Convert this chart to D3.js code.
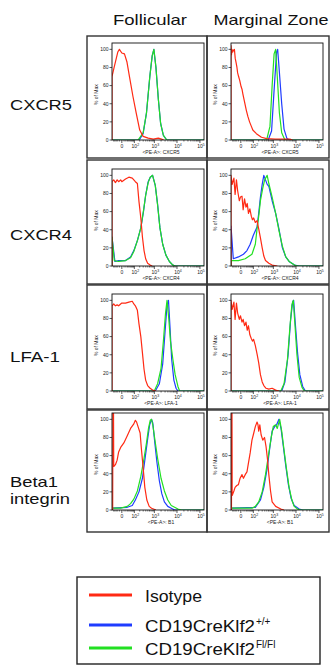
<!DOCTYPE html>
<html>
<head>
<meta charset="utf-8">
<script src="https://cdn.jsdelivr.net/npm/d3@7/dist/d3.min.js"></script>
<style>
  body { margin: 0; background: #fff; }
  svg { display: block; }
</style>
</head>
<body>
<div id="chart"></div>
<script>
// column / row categories
const cellTypes = ['Follicular', 'Marginal Zone']
const markers = [['CXCR5'], ['CXCR4'], ['LFA-1'], ['Beta1', 'integrin']]
const axisNames = ['CXCR5', 'CXCR4', 'LFA-1', 'B1']
const seriesNames = ['Isotype', 'CD19CreKlf2', 'CD19CreKlf2']
const seriesSup = ['', '+/+', 'Fl/Fl']

// ticks
const xMajor = [0, 1e2, 1e3, 1e4, 1e5]
const xMajorExp = ['', '2', '3', '4', '5']
const xMinor = [-50, -40, -30, -20, -10, 10, 20, 30, 40, 50, 60, 70, 80, 90,
  200, 300, 400, 500, 600, 700, 800, 900, 2000, 3000, 4000, 5000, 6000, 7000, 8000, 9000,
  20000, 30000, 40000, 50000, 60000, 70000, 80000, 90000]
const yTicks = [0, 20, 40, 60, 80, 100]

// histograms: [intensity, % of max]
const folCxcr5Iso = [[-67, 0], [-67, 70], [-45, 81], [-20, 97], [-11, 100], [0, 96], [12, 95], [27, 86], [46, 70], [82, 48], [131, 29], [200, 11], [298, 4], [520, 2], [900, 1], [1500, 2], [2100, 1], [2600, 0]]
const folCxcr5Wt = [[-67, 0], [150, 0], [200, 1], [298, 7], [433, 30], [620, 70], [800, 93], [950, 100], [1180, 80], [1510, 45], [1916, 18], [2530, 5], [3560, 0], [150000, 0]]
const folCxcr5Fl = [[-67, 0], [164, 0], [298, 8], [433, 30], [620, 70], [800, 93], [950, 100], [1180, 80], [1510, 45], [1916, 18], [2530, 5], [3560, 0], [150000, 0]]

const mzCxcr5Iso = [[-67, 0], [-67, 104], [-62, 94], [-57, 100], [-50, 97], [-43, 99], [-36, 100], [-30, 90], [-24, 85], [-19, 80], [-15, 74], [-10, 70], [-5, 66], [1, 59], [5, 56], [9, 51], [18, 42], [29, 33], [41, 26], [56, 20], [75, 15], [93, 11], [150, 7], [275, 3], [490, 1.5], [1200, 1], [5400, 1], [7000, 0]]
const mzCxcr5Wt = [[-67, 0], [580, 0], [830, 10], [1080, 55], [1400, 97], [1560, 100], [1860, 75], [2360, 40], [2990, 12], [3950, 2], [5100, 0], [150000, 0]]
const mzCxcr5Fl = [[-67, 0], [490, 0], [700, 15], [880, 60], [1080, 95], [1270, 100], [1500, 70], [1860, 30], [2360, 8], [3270, 0], [150000, 0]]

const folCxcr4Iso = [[-67, 0], [-67, 93], [-50, 95], [-36, 92], [-24, 95], [-15, 93], [-5, 95], [0, 93], [18, 96], [41, 98], [74, 97], [93, 95], [115, 93], [150, 91], [183, 71], [228, 53], [275, 32], [330, 17], [395, 8], [490, 3], [640, 1], [800, 0]]
const folCxcr4Wt = [[-67, 0], [-67, 32], [-40, 5], [-15, 6], [18, 6], [56, 10], [93, 17], [150, 28], [228, 42], [310, 60], [395, 78], [520, 93], [650, 98], [830, 100], [1100, 89], [1400, 68], [1780, 42], [2360, 24], [3270, 12], [4650, 5], [6600, 1], [8500, 0], [150000, 0]]
const folCxcr4Fl = [[-67, 0], [-67, 32], [-45, 6], [-15, 5], [18, 6], [56, 9], [93, 16], [150, 28], [228, 42], [310, 61], [395, 78], [520, 92], [650, 98], [830, 100], [1100, 89], [1400, 67], [1780, 42], [2360, 24], [3270, 12], [4650, 5], [6600, 1], [8500, 0], [150000, 0]]

const mzCxcr4Iso = [[-67, 0], [-67, 100], [-55, 90], [-40, 97], [-31, 79], [-22, 95], [-15, 83], [-6.5, 72], [-1.5, 76], [5, 77], [10.5, 62], [18, 74], [27, 65], [36, 69], [46, 58], [59, 63], [74, 55], [88, 51], [104, 53], [131, 48], [163, 50], [200, 41], [245, 31], [300, 20], [360, 11], [433, 6], [620, 3], [880, 1], [1510, 0]]
const mzCxcr4Wt = [[-67, 0], [-67, 44], [-45, 8], [-11, 10], [12, 13], [34, 17], [62, 24], [100, 34], [163, 43], [200, 58], [245, 76], [300, 90], [360, 100], [433, 95], [520, 90], [620, 88], [880, 72], [1270, 58], [1780, 41], [2530, 20], [3560, 10], [5000, 5], [8600, 1], [14000, 0], [150000, 0]]
const mzCxcr4Fl = [[-67, 0], [-67, 6], [-11, 6], [22, 8], [82, 13], [131, 24], [163, 41], [200, 55], [245, 72], [320, 86], [395, 95], [520, 100], [620, 91], [880, 76], [1270, 58], [1780, 39], [2530, 22], [3560, 10], [5000, 5], [8600, 1], [12000, 0], [150000, 0]]

const folLfaIso = [[-67, 0], [-67, 94], [-50, 96], [-36, 94], [-24, 95], [-15, 94], [-5, 96], [0, 97], [18, 97], [41, 98], [74, 99], [93, 96], [115, 94], [150, 89], [183, 74], [228, 60], [275, 42], [330, 24], [395, 12], [490, 6], [640, 3], [829, 1], [1180, 0]]
const folLfaWt = [[-67, 0], [1100, 0], [1680, 8], [2360, 30], [2990, 65], [3660, 95], [4240, 100], [4950, 70], [5850, 35], [7300, 12], [9100, 3], [11000, 0], [150000, 0]]
const folLfaFl = [[-67, 0], [990, 0], [1400, 8], [1990, 25], [2530, 55], [3120, 85], [3660, 100], [4360, 80], [5180, 55], [6600, 35], [8300, 18], [11000, 5], [13000, 0], [150000, 0]]

const mzLfaIso = [[-67, 0], [-67, 100], [-55, 90], [-40, 98], [-31, 79], [-22, 97], [-15, 86], [-6.5, 79], [-1.5, 83], [5, 76], [10.5, 79], [18, 72], [27, 76], [36, 67], [46, 72], [59, 62], [74, 58], [88, 55], [104, 57], [131, 50], [163, 41], [200, 31], [245, 18], [300, 10], [360, 6], [460, 3], [620, 2], [880, 3], [1270, 1], [1780, 0]]
const mzLfaWt = [[-67, 0], [2360, 0], [3270, 10], [4520, 40], [5800, 78], [7100, 98], [7900, 100], [9100, 78], [11700, 42], [14700, 18], [19600, 5], [25700, 0], [150000, 0]]
const mzLfaFl = [[-67, 0], [2150, 0], [2990, 8], [4240, 35], [5400, 70], [6600, 95], [7600, 100], [8900, 75], [11000, 40], [13800, 15], [18300, 4], [23200, 0], [150000, 0]]

const folB1Iso = [[-67, 0], [-60, 0], [-58, 110], [-52, 110], [-50, 48], [-36, 50], [-24, 55], [-15, 64], [-5, 69], [9, 74], [29, 82], [56, 90], [93, 95], [115, 99], [136, 97], [163, 92], [210, 85], [245, 67], [300, 46], [360, 25], [450, 11], [580, 4], [745, 2], [1180, 0]]
const folB1Wt = [[-67, 0], [-67, 2], [29, 3], [74, 5], [115, 11], [183, 20], [275, 35], [370, 57], [490, 78], [610, 94], [745, 100], [850, 96], [1050, 74], [1300, 53], [1680, 32], [2150, 18], [2800, 9], [3950, 4], [5600, 2], [7900, 0], [150000, 0]]
const folB1Fl = [[-67, 0], [-67, 2], [-5, 2], [29, 4], [56, 7], [93, 12], [150, 21], [228, 37], [330, 57], [433, 74], [538, 90], [650, 99], [745, 100], [850, 94], [1050, 78], [1400, 57], [1990, 35], [2800, 21], [3950, 11], [5600, 5], [7900, 3], [11000, 1], [15500, 0], [150000, 0]]

const mzB1Iso = [[-67, 0], [-62, 0], [-60, 110], [-57, 110], [-55, 16], [-40, 21], [-31, 25], [-20, 27], [-11, 28], [-3, 35], [5, 39], [12, 35], [22, 39], [34, 42], [46, 52], [62, 63], [82, 77], [100, 83], [131, 92], [163, 97], [183, 94], [200, 87], [228, 94], [265, 83], [320, 77], [390, 80], [460, 70], [538, 56], [620, 39], [745, 21], [880, 9], [1270, 4], [2150, 1], [2990, 0]]
const mzB1Wt = [[-67, 0], [-67, 2], [131, 3], [245, 11], [360, 25], [520, 46], [700, 70], [880, 87], [1140, 92], [1400, 94], [1780, 100], [2200, 90], [2700, 73], [3560, 49], [4650, 28], [6100, 13], [8300, 5], [13800, 1], [19600, 0], [150000, 0]]
const mzB1Fl = [[-67, 0], [-67, 2], [82, 2], [131, 4], [200, 9], [300, 20], [433, 39], [620, 63], [800, 80], [990, 92], [1270, 94], [1500, 90], [1916, 100], [2360, 87], [2990, 66], [3800, 46], [5000, 25], [6600, 11], [8300, 4], [11700, 1], [16600, 0], [150000, 0]]

const panelData = [
  [[folCxcr5Iso, folCxcr5Wt, folCxcr5Fl], [mzCxcr5Iso, mzCxcr5Wt, mzCxcr5Fl]],
  [[folCxcr4Iso, folCxcr4Wt, folCxcr4Fl], [mzCxcr4Iso, mzCxcr4Wt, mzCxcr4Fl]],
  [[folLfaIso, folLfaWt, folLfaFl], [mzLfaIso, mzLfaWt, mzLfaFl]],
  [[folB1Iso, folB1Wt, folB1Fl], [mzB1Iso, mzB1Wt, mzB1Fl]]
]

const colors = ['#ff2a14', '#1f3cff', '#22e022']
const font = '"Liberation Sans", Arial, sans-serif'

const width = 331
const height = 665

const colBoxX = [87, 207]
const colBoxW = [120, 122]
const rowBoxY = [36, 160, 285, 410]
const rowBoxH = [122, 124, 124, 122]
const plotLeftOff = [25, 24]
const plotTopOff = [7, 9, 9, 3]
const plotW = 92
const plotH = 97

const svg = d3.select('#chart')
  .append('svg')
  .attr('width', width)
  .attr('height', height)
  .style('font-family', font)

const x = d3.scaleSymlog().constant(40).domain([-67, 150000]).range([0, plotW])
const y = d3.scaleLinear().domain([0, 107]).range([plotH, 0])

const line = d3.line()
  .x((d) => x(d[0]))
  .y((d) => y(d[1]))

// column headers
const headerW = [74, 115]
cellTypes.forEach((name, c) => {
  svg.append('text')
    .attr('x', colBoxX[c] + colBoxW[c] / 2 + 3)
    .attr('y', 25)
    .attr('text-anchor', 'middle')
    .attr('font-size', 15)
    .attr('textLength', headerW[c])
    .attr('lengthAdjust', 'spacingAndGlyphs')
    .attr('fill', '#111')
    .text(name)
})

// row labels
const rowLabelY = [110, 240, 362, 487]
const rowLabelW = [[62], [62], [50], [48, 60]]
markers.forEach((lines, r) => {
  lines.forEach((txt, i) => {
    svg.append('text')
      .attr('x', 10)
      .attr('y', rowLabelY[r] + i * 17)
      .attr('font-size', 15)
      .attr('textLength', rowLabelW[r][i])
      .attr('lengthAdjust', 'spacingAndGlyphs')
      .attr('fill', '#111')
      .text(txt)
  })
})

panelData.forEach((row, r) => {
  row.forEach((series, c) => {
    const box = svg.append('g')
    box.append('rect')
      .attr('x', colBoxX[c])
      .attr('y', rowBoxY[r])
      .attr('width', colBoxW[c])
      .attr('height', rowBoxH[r])
      .attr('fill', 'none')
      .attr('stroke', '#333')
      .attr('stroke-width', 1.4)

    const px = colBoxX[c] + plotLeftOff[c]
    const py = rowBoxY[r] + plotTopOff[r]
    const g = svg.append('g').attr('transform', `translate(${px},${py})`)

    const clipId = `clip-${r}-${c}`
    g.append('clipPath').attr('id', clipId)
      .append('rect').attr('width', plotW).attr('height', plotH)

    const curves = g.append('g').attr('clip-path', `url(#${clipId})`)
    ;[1, 2, 0].forEach((s) => {
      curves.append('path')
        .datum(series[s])
        .attr('d', line)
        .attr('fill', 'none')
        .attr('stroke', colors[s])
        .attr('stroke-width', 1.2)
        .attr('stroke-linejoin', 'round')
    })

    g.append('rect')
      .attr('width', plotW)
      .attr('height', plotH)
      .attr('fill', 'none')
      .attr('stroke', '#111')
      .attr('stroke-width', 0.9)

    // y axis
    yTicks.forEach((t) => {
      g.append('line')
        .attr('x1', -2.5).attr('x2', 0)
        .attr('y1', y(t)).attr('y2', y(t))
        .attr('stroke', '#111').attr('stroke-width', 0.7)
      g.append('text')
        .attr('x', -3.5)
        .attr('y', y(t) + 1.8)
        .attr('text-anchor', 'end')
        .attr('font-size', 5)
        .attr('fill', '#222')
        .text(t)
    })
    g.append('text')
      .attr('transform', `translate(${-14},${y(50)}) rotate(-90)`)
      .attr('text-anchor', 'middle')
      .attr('font-size', 5)
      .attr('fill', '#222')
      .text('% of Max')

    // x axis
    xMinor.forEach((t) => {
      g.append('line')
        .attr('x1', x(t)).attr('x2', x(t))
        .attr('y1', plotH).attr('y2', plotH + 1.5)
        .attr('stroke', '#111').attr('stroke-width', 0.6)
    })
    xMajor.forEach((t, i) => {
      g.append('line')
        .attr('x1', x(t)).attr('x2', x(t))
        .attr('y1', plotH).attr('y2', plotH + 3)
        .attr('stroke', '#111').attr('stroke-width', 0.7)
      const lbl = g.append('text')
        .attr('x', x(t) + (i === 0 ? 0 : 1))
        .attr('y', plotH + 8)
        .attr('text-anchor', 'middle')
        .attr('font-size', 5)
        .attr('fill', '#222')
      if (i === 0) {
        lbl.text('0')
      } else {
        lbl.append('tspan').text('10')
        lbl.append('tspan')
          .attr('dy', -2)
          .attr('font-size', 3.5)
          .text(xMajorExp[i])
      }
    })
    g.append('text')
      .attr('x', plotW / 2 + 3)
      .attr('y', plotH + 13.5)
      .attr('text-anchor', 'middle')
      .attr('font-size', 5)
      .attr('fill', '#222')
      .text(`<PE-A>: ${axisNames[r]}`)
  })
})

// legend
const legend = svg.append('g')
legend.append('rect')
  .attr('x', 77).attr('y', 577)
  .attr('width', 243).attr('height', 87)
  .attr('fill', 'none')
  .attr('stroke', '#222')
  .attr('stroke-width', 1.4)

const legendLineY = [595, 625, 648]
const legendTextW = [57, 110, 110]
seriesNames.forEach((name, i) => {
  legend.append('line')
    .attr('x1', 89).attr('x2', 132)
    .attr('y1', legendLineY[i]).attr('y2', legendLineY[i])
    .attr('stroke', colors[i])
    .attr('stroke-width', 3)
  legend.append('text')
    .attr('x', 145)
    .attr('y', legendLineY[i] + 6.5)
    .attr('font-size', 16)
    .attr('textLength', legendTextW[i])
    .attr('lengthAdjust', 'spacingAndGlyphs')
    .attr('fill', '#111')
    .text(name)
  if (seriesSup[i]) {
    legend.append('text')
      .attr('x', 256)
      .attr('y', legendLineY[i] - 0.5)
      .attr('font-size', 10)
      .attr('fill', '#111')
      .text(seriesSup[i])
  }
})
</script>
</body>
</html>
